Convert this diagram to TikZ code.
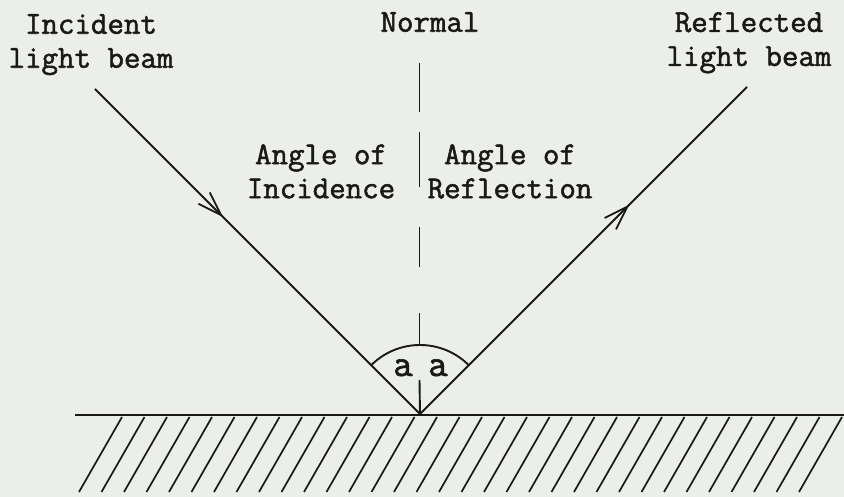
\documentclass[tikz,border=0pt]{standalone}
\usepackage{fontspec}
\newfontfamily\tw[BoldFont={Latin Modern Mono},BoldFeatures={FakeBold=1.6}]{Latin Modern Mono}
\usetikzlibrary{arrows.meta,decorations.markings}
\definecolor{paper}{RGB}{236,239,233}
\definecolor{ink}{RGB}{25,25,25}
\tikzset{
  ray/.style={draw=ink,line width=1.9pt},
  midarrow/.style={postaction={decorate},decoration={markings,
     mark=at position #1 with {\arrow{Straight Barb[length=24pt,width=16pt,line width=1.8pt]}}}},
  lbl/.style={font=\fontsize{32}{34}\selectfont\tw\bfseries,text=ink,inner sep=0pt,align=center},
  alabel/.style={font=\fontsize{38}{40}\selectfont\tw\bfseries,text=ink,inner sep=0pt,anchor=base},
  normalline/.style={draw=ink,line width=1.9pt},
  hatch/.style={draw=ink,line width=1.7pt},
  surface/.style={draw=ink,line width=2.6pt}
}
\begin{document}
\begin{tikzpicture}[x=1pt,y=-1pt]
  \fill[paper] (0,0) rectangle (844,497);
  \useasboundingbox (0,0) rectangle (844,497);
  % key points
  \coordinate (O) at (420,414);
  \coordinate (I) at (95,89);
  \coordinate (R) at (747,87);
  % labels
  \node[lbl,anchor=north] (inc) at (91,14) {Incident\\light beam};
  \node[lbl,anchor=north] (ref) at (749,12) {Reflected\\light beam};
  \node[lbl,anchor=north] (nor) at (430,12) {Normal};
  \node[lbl,anchor=north] (aoi) at (321,144) {Angle of\\Incidence};
  \node[lbl,anchor=north] (aor) at (510,144) {Angle of\\Reflection};
  \node[alabel] (a1) at (403,376) {a};
  \node[alabel] (a2) at (438,376) {a};
  % normal (dashed by hand)
  \draw[normalline] (419.5,63) -- (419.5,112);
  \draw[normalline] (419.5,132) -- (419.5,187);
  \draw[normalline] (419.5,227) -- (419.5,267);
  \draw[normalline] (419.5,313) -- (419.5,345);
  \draw[normalline] (419.5,380) -- (O);
  % rays
  \draw[ray,midarrow=0.394] (I) -- (O);
  \draw[ray,midarrow=0.64] (O) -- (R);
  % angle arc
  \draw[ray] ([shift={(-45:69)}]O) arc[start angle=-45,end angle=-135,radius=69];
  % surface and hatching
  \begin{scope}
    \clip (0,0) rectangle (844,497);
    \foreach \i in {0,...,32}
      \draw[hatch] (122+22.5*\i,417) -- ++(-43,75);
  \end{scope}
  \draw[surface] (75,415) -- (844,415);
\end{tikzpicture}
\end{document}
